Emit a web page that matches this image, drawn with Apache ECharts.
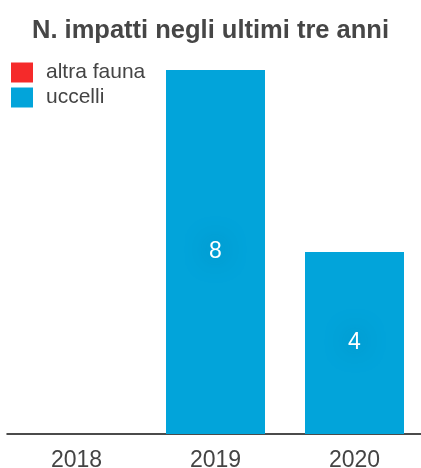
<!DOCTYPE html>
<html><head><meta charset="utf-8">
<script src="https://cdn.jsdelivr.net/npm/echarts@6/dist/echarts.min.js"></script>
<style>html,body{margin:0;padding:0;background:#fff}#c{width:421px;height:468px}</style>
</head><body><div id="c"></div>
<script>
const categories = ['2018', '2019', '2020'];
const altraFauna = [0, 0, 0];
const uccelli = [0, 8, 4];
const seriesNames = ['altra fauna', 'uccelli'];
const titleText = 'N. impatti negli ultimi tre anni';

const chart = echarts.init(document.getElementById('c'), null, {renderer: 'canvas'});
const font = '"Liberation Sans", Arial, Helvetica, sans-serif';
const lbl = {
  show: true, position: 'inside', color: '#fff', fontSize: 23, fontFamily: font,
  textShadowColor: 'rgba(0,105,155,0.95)', textShadowBlur: 24,
  formatter: p => p.value > 0 ? String(p.value) : ''
};
chart.setOption({
  animation: false,
  title: { text: titleText, left: 'center', top: 13,
    textStyle: { fontFamily: font, fontSize: 25.5, fontWeight: 'bold', color: '#464646' } },
  legend: { orient: 'vertical', left: 6, top: 57, itemWidth: 22, itemHeight: 20, itemGap: 4,
    icon: 'rect', data: seriesNames,
    textStyle: { fontFamily: font, fontSize: 21, color: '#444', padding: [0,0,0,8] } },
  grid: { left: 7, right: -3, top: 70, bottom: 34, containLabel: false, outerBoundsMode: 'none' },
  xAxis: { type: 'category', data: categories,
    axisLine: { lineStyle: { color: '#111', width: 1.5 } },
    axisTick: { show: false },
    axisLabel: { fontFamily: font, fontSize: 23, color: '#444', margin: 15 } },
  yAxis: { type: 'value', min: 0, max: 8, show: false, splitLine: { show: false } },
  series: [
    { name: seriesNames[0], type: 'bar', stack: 's', data: altraFauna, barWidth: 99,
      itemStyle: { color: '#f52a2a' }, label: { show: false } },
    { name: seriesNames[1], type: 'bar', stack: 's', data: uccelli, barWidth: 99,
      itemStyle: { color: '#02a4da' }, label: lbl }
  ]
});
</script></body></html>
